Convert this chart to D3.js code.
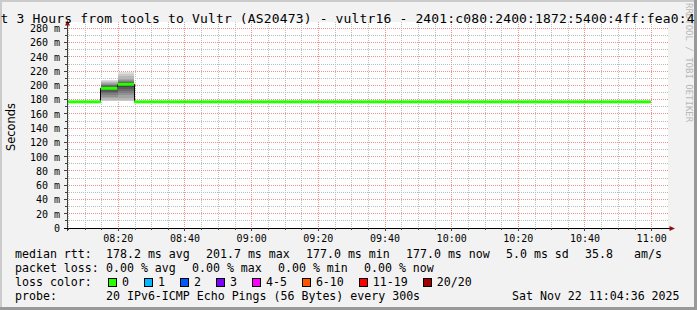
<!DOCTYPE html>
<html><head><meta charset="utf-8">
<script src="https://cdn.jsdelivr.net/npm/d3@7"></script>
<style>html,body{margin:0;padding:0;background:#f2f2f2;overflow:hidden}svg{display:block}</style>
</head><body><svg id="c" width="697" height="310"></svg>
<script>
// ---------------- data ----------------
const titleText = "t 3 Hours from tools to Vultr (AS20473) - vultr16 - 2401:c080:2400:1872:5400:4ff:fea0:4";
const yAxisTitle = "Seconds";
const watermark = "RRDTOOL / TOBI OETIKER";
const day = "2025-11-22";
const windowStart = "08:04:36";
const windowEnd = "11:04:36";
const xTickLabels = ["08:20","08:40","09:00","09:20","09:40","10:00","10:20","10:40","11:00"];
const yTickValues = [0,20,40,60,80,100,120,140,160,180,200,220,240,260,280];
const yTickLabels = ["0","20 m","40 m","60 m","80 m","100 m","120 m","140 m","160 m","180 m","200 m","220 m","240 m","260 m","280 m"];
// 5-minute buckets (start times) and their median RTT in ms
const bucketStarts = ["07:59:45","08:04:45","08:09:45","08:14:45","08:19:45","08:24:45","08:29:45","08:34:45","08:39:45",
  "08:44:45","08:49:45","08:54:45","08:59:45","09:04:45","09:09:45","09:14:45","09:19:45","09:24:45","09:29:45",
  "09:34:45","09:39:45","09:44:45","09:49:45","09:54:45","09:59:45","10:04:45","10:09:45","10:14:45","10:19:45",
  "10:24:45","10:29:45","10:34:45","10:39:45","10:44:45","10:49:45","10:54:45"];
const lastBucketEnd = "10:59:45";
const medianRtt = [177.0,177.0,177.0,196.0,201.7,177.0,177.0,177.0,177.0,
  177.0,177.0,177.0,177.0,177.0,177.0,177.0,177.0,177.0,177.0,
  177.0,177.0,177.0,177.0,177.0,177.0,177.0,177.0,177.0,177.0,
  177.0,177.0,177.0,177.0,177.0,177.0,177.0];
const lostPings = [0,0,0,0,0,0,0,0,0, 0,0,0,0,0,0,0,0,0,0, 0,0,0,0,0,0,0,0,0,0, 0,0,0,0,0,0,0];
// buckets with visible smoke (20 sorted pings each, ms)
const smokeBucketStarts = ["08:14:45","08:19:45"];
const smokePings = [
  [177.8,178.5,180,182,184,187,189,191,193,195,197,198,199,200,201,202,203,204.5,206,208.3],
  [177.8,178.5,180,183,186,189,192,195,198,200.5,203,204,204.5,205,206,207.3,209,212.9,215.5,218.5]
];
const lossLevels = ["0","1","2","3","4-5","6-10","11-19","20/20"];
const lossColors = ["#26ff00","#00b8ff","#0059ff","#7e00ff","#ff00ff","#ff5500","#ff0000","#a10000"];
const rttLegend = ["median rtt:","178.2 ms avg","201.7 ms max","177.0 ms min","177.0 ms now","5.0 ms sd","35.8","am/s"];
const lossLegend = ["packet loss:","0.00 % avg","0.00 % max","0.00 % min","0.00 % now"];
const colorLegendLabel = "loss color:";
const probeLegend = ["probe:","20 IPv6-ICMP Echo Pings (56 Bytes) every 300s","Sat Nov 22 11:04:36 2025"];

// ---------------- drawing ----------------
const W = 697, H = 310;
const svg = d3.select("#c");
const mono = "'DejaVu Sans Mono', monospace";
const parse = d3.utcParse("%Y-%m-%d %H:%M:%S");
const pt = s => parse(day + " " + (s.length === 5 ? s + ":00" : s));
const crisp = v => Math.floor(v) + 0.5;

const L = 67, R = 667, T = 22, B = 228;
const x = d3.scaleUtc().domain([pt(windowStart), pt(windowEnd)]).range([L, R]);
const y = d3.scaleLinear().domain([0, 289]).range([B, T]);

// background + frame
svg.append("rect").attr("width", W).attr("height", H).attr("fill", "#f2f2f2");
svg.append("rect").attr("x", 0).attr("y", 0).attr("width", W).attr("height", 2).attr("fill", "#cbcbcb");
svg.append("rect").attr("x", 0).attr("y", 0).attr("width", 2).attr("height", H).attr("fill", "#cbcbcb");
svg.append("rect").attr("x", 0).attr("y", H - 3).attr("width", W).attr("height", 3).attr("fill", "#999999");
svg.append("rect").attr("x", W - 3).attr("y", 0).attr("width", 3).attr("height", H).attr("fill", "#999999");

// canvas
svg.append("rect").attr("x", L).attr("y", T).attr("width", R - L + 1).attr("height", B - T).attr("fill", "#ffffff");

const grid = svg.append("g").attr("shape-rendering", "crispEdges").attr("stroke-dasharray", "1,1");
// minor horizontal (10 m)
const minorY = d3.range(10, 290, 20);
grid.selectAll(".hm").data(minorY).join("line")
  .attr("x1", L).attr("x2", R + 1).attr("y1", d => crisp(y(d))).attr("y2", d => crisp(y(d)))
  .attr("stroke", "#bcbcbc");
// minor vertical (5 min)
const minorX = d3.utcMinute.every(5).range(x.domain()[0], x.domain()[1]).filter(t => t.getUTCMinutes() % 20 !== 0);
grid.selectAll(".vm").data(minorX).join("line")
  .attr("x1", d => crisp(x(d))).attr("x2", d => crisp(x(d))).attr("y1", T).attr("y2", B)
  .attr("stroke", "#bcbcbc");
// major horizontal
grid.selectAll(".hM").data(yTickValues.filter(v => v > 0)).join("line")
  .attr("x1", L).attr("x2", R + 1).attr("y1", d => crisp(y(d))).attr("y2", d => crisp(y(d)))
  .attr("stroke", "#f09090");
// major vertical
const majorX = xTickLabels.map(pt);
grid.selectAll(".vM").data(majorX).join("line")
  .attr("x1", d => crisp(x(d))).attr("x2", d => crisp(x(d))).attr("y1", T).attr("y2", B)
  .attr("stroke", "#f09090");

// plot clip
svg.append("clipPath").attr("id", "clip").append("rect").attr("x", L).attr("y", T).attr("width", R - L).attr("height", B - T);
const plot = svg.append("g").attr("clip-path", "url(#clip)");

// smoke
const shade = i => { const c = Math.round(190 / 10 * (10 - i - 1)) + 50; return d3.rgb(c, c, c).toString(); };
smokeBucketStarts.forEach((s, k) => {
  const t0 = pt(s), t1 = d3.utcMinute.offset(t0, 5);
  const p = smokePings[k].slice().sort((a, b) => a - b);
  const n = p.length;
  for (let i = 0; i < n / 2; i++) {
    plot.append("rect")
      .attr("x", x(t0)).attr("width", x(t1) - x(t0))
      .attr("y", y(p[n - 1 - i])).attr("height", y(p[i]) - y(p[n - 1 - i]))
      .attr("fill", shade(i)).attr("shape-rendering", "crispEdges");
  }
});

// median black step line
const pts = bucketStarts.map((s, i) => [pt(s), medianRtt[i]]);
pts.push([pt(lastBucketEnd), medianRtt[medianRtt.length - 1]]);
plot.append("path")
  .attr("d", d3.line().x(d => crisp(x(d[0]))).y(d => y(d[1])).curve(d3.curveStepAfter)(pts))
  .attr("fill", "none").attr("stroke", "#000").attr("stroke-width", 1);

// median coloured bars
const lossIdx = l => l === 0 ? 0 : l === 1 ? 1 : l === 2 ? 2 : l === 3 ? 3 : l <= 5 ? 4 : l <= 10 ? 5 : l <= 19 ? 6 : 7;
bucketStarts.forEach((s, i) => {
  const t0 = pt(s), t1 = i + 1 < bucketStarts.length ? pt(bucketStarts[i + 1]) : pt(lastBucketEnd);
  plot.append("rect")
    .attr("x", x(t0)).attr("width", x(t1) - x(t0))
    .attr("y", y(medianRtt[i]) - 1.5).attr("height", 3)
    .attr("fill", lossColors[lossIdx(lostPings[i])]);
});

// axes
const axisColor = "#404040";
const ax = svg.append("g").attr("shape-rendering", "crispEdges");
ax.append("line").attr("x1", crisp(L)).attr("x2", crisp(L)).attr("y1", 24).attr("y2", B + 3).attr("stroke", axisColor);
ax.append("line").attr("x1", L - 3).attr("x2", 670).attr("y1", crisp(B)).attr("y2", crisp(B)).attr("stroke", "#000");
// y ticks
ax.selectAll(".yt").data(d3.range(10, 290, 10)).join("line")
  .attr("x1", d => d % 20 === 0 ? L - 3 : L - 2).attr("x2", L)
  .attr("y1", d => crisp(y(d))).attr("y2", d => crisp(y(d))).attr("stroke", axisColor);
// x ticks
ax.selectAll(".xt").data(majorX.concat(minorX)).join("line")
  .attr("x1", d => crisp(x(d))).attr("x2", d => crisp(x(d)))
  .attr("y1", B).attr("y2", (d, i) => i < majorX.length ? B + 3 : B + 2).attr("stroke", axisColor);
// arrows
svg.append("path").attr("d", `M${L + 0.5},20 L${L + 3},25.5 L${L - 2},25.5 Z`).attr("fill", "#8b1010");
svg.append("path").attr("d", `M675,${B + 0.5} L669.5,${B - 2} L669.5,${B + 3} Z`).attr("fill", "#8b1010");

// y labels
svg.append("g").selectAll("text").data(yTickValues).join("text")
  .attr("x", 60).attr("y", d => y(d) + 3.8)
  .attr("text-anchor", "end").attr("font-family", mono).attr("font-size", 10).attr("fill", "#000")
  .text((d, i) => yTickLabels[i]);
// x labels
svg.append("g").selectAll("text").data(xTickLabels).join("text")
  .attr("x", d => x(pt(d))).attr("y", 242)
  .attr("text-anchor", "middle").attr("font-family", mono).attr("font-size", 10).attr("fill", "#000")
  .text(d => d);

// y title
svg.append("text").attr("transform", "translate(15,127) rotate(-90)")
  .attr("text-anchor", "middle").attr("font-family", "'DejaVu Sans', sans-serif").attr("font-size", 11.4)
  .attr("fill", "#000").text(yAxisTitle);

// watermark
svg.append("text").attr("transform", "translate(686,3) rotate(90)")
  .attr("font-family", mono).attr("font-size", 9).attr("fill", "#b8b8b8").text(watermark);

// title
svg.append("text").attr("x", 0.5).attr("y", 23)
  .attr("font-family", mono).attr("font-size", 13).attr("fill", "#000")
  .attr("textLength", 694).attr("lengthAdjust", "spacing").text(titleText);

// legend
const lf = 11.6;
const lg = svg.append("g").attr("font-family", mono).attr("font-size", lf).attr("fill", "#000");
const rttX = [15, 106, 206, 306, 406, 506, 585, 634];
rttLegend.forEach((t, i) => lg.append("text").attr("x", rttX[i]).attr("y", 258).text(t));
const lossX = [15, 106, 192, 278, 364];
lossLegend.forEach((t, i) => lg.append("text").attr("x", lossX[i]).attr("y", 272).text(t));
lg.append("text").attr("x", 15).attr("y", 286).text(colorLegendLabel);
let bx = 108;
lossLevels.forEach((lv, i) => {
  svg.append("rect").attr("x", bx + 0.5).attr("y", 278.5).attr("width", 8).attr("height", 8)
    .attr("fill", lossColors[i]).attr("stroke", "#000").attr("stroke-width", 1).attr("shape-rendering", "crispEdges");
  const tx = lg.append("text").attr("x", bx + 14).attr("y", 286).text(lv);
  bx = bx + 14 + tx.node().getComputedTextLength() + 15;
});
lg.append("text").attr("x", 15).attr("y", 300).text(probeLegend[0]);
lg.append("text").attr("x", 106).attr("y", 300).text(probeLegend[1]);
lg.append("text").attr("x", 512).attr("y", 300).text(probeLegend[2]);
</script></body></html>
